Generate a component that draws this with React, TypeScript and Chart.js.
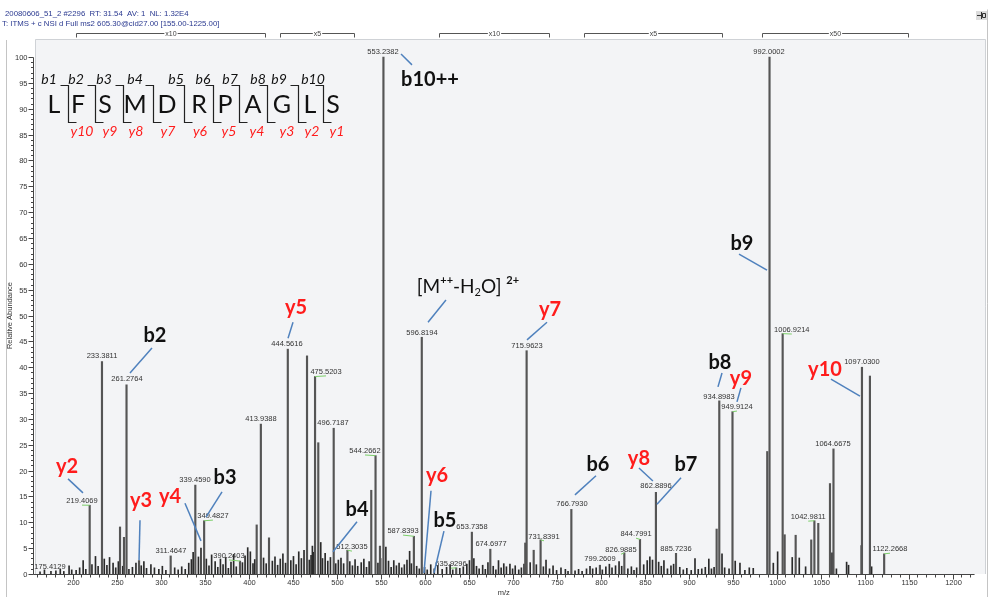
import React, { useEffect, useRef } from 'react';
import { Chart, registerables } from 'chart.js';
Chart.register(...registerables);

const HEADER_1 = '20080606_51_2 #2296  RT: 31.54  AV: 1  NL: 1.32E4';
const HEADER_2 = 'T: ITMS + c NSI d Full ms2 605.30@cid27.00 [155.00-1225.00]';

// x range and ticks
const X_MIN = 155;
const X_MAX = 1238;
const X_AXIS_END = 1225;
const Y_MAX = 103.5;

// major peaks (m/z, relative abundance)
const majorMz = [219.41, 233.38, 253.9, 258.4, 261.28, 275.5, 311.46, 339.46, 349.48, 390.24, 409.2, 413.94, 423.2, 444.56, 466.4, 475.52, 479.2, 496.72, 512.3, 539.4, 544.27, 549.3, 553.24, 587.84, 596.82, 635.93, 653.74, 674.7, 714.4, 715.96, 724, 731.84, 766.79, 799.26, 826.99, 844.8, 862.89, 885.72, 931.9, 934.9, 949.91, 989.4, 992.0, 1006.92, 1009.2, 1021.7, 1039.4, 1042.98, 1047.4, 1060.7, 1064.67, 1097.03, 1106.1, 1122.27];
const majorAbund = [13.3, 41.1, 9.1, 7.1, 36.6, 2.6, 3.5, 17.2, 10.3, 2.5, 9.5, 29.0, 7.0, 43.5, 42.2, 38.2, 25.4, 28.2, 4.6, 16.2, 22.9, 5.4, 100, 7.3, 45.8, 1.2, 8.1, 4.8, 6.0, 43.2, 4.6, 6.6, 12.5, 1.7, 4.1, 6.7, 15.8, 4.0, 8.7, 33.5, 31.4, 23.7, 100, 46.5, 7.6, 7.5, 6.6, 10.3, 9.8, 17.5, 24.2, 40.0, 38.3, 3.9];

// small peaks
const minorMz = [163, 168, 175.41, 181, 186, 190, 196, 199, 204, 208, 212, 215, 222, 226, 229, 236, 239, 242, 246, 249, 252, 257, 264, 268, 272, 278, 281, 284, 289, 293, 298, 302, 306, 316, 320, 324, 328, 332, 335, 337, 343, 345.9, 352, 355, 358, 362, 365, 368, 371, 374, 377, 380, 383, 386, 393, 396, 399, 402, 405, 407, 417, 420, 427, 430, 433, 436, 439, 442, 448, 451, 454, 457, 460, 463, 469, 471, 472.5, 474, 482, 484, 487, 490, 493, 499, 502, 505, 508, 515, 518, 521, 524, 528, 531, 534, 537, 547, 550, 556, 559, 562, 565, 568, 571, 574, 577, 580, 583, 585, 591, 594, 600, 603, 607, 611, 615, 620, 625, 629, 632, 640, 644, 648, 651, 656, 659, 662, 666, 669, 672, 678, 681, 684, 687, 690, 693, 697, 700, 703, 707, 710, 713, 720, 727, 735, 738, 742, 746, 750, 755, 760, 763, 771, 775, 779, 784, 788, 791, 795, 802, 806, 810, 813, 817, 821, 824, 831, 835, 838, 841, 849, 853, 856, 859, 866, 869, 872, 876, 880, 883, 890, 894, 898, 903, 907.3, 911, 915, 919, 923, 926, 929, 938, 941, 946, 953, 958.4, 964, 969, 973.5, 996.3, 1001.2, 1017.8, 1025.8, 1033, 1063, 1068, 1079.6, 1081.8, 1096.3, 1108];
const minorAbund = [0.4, 0.8, 0.5, 0.6, 0.9, 0.5, 1.6, 0.8, 0.7, 1.2, 2.6, 0.9, 1.8, 3.4, 1.5, 2.9, 1.7, 3.2, 2.1, 1.2, 2.4, 1.5, 0.9, 1.3, 2.1, 1.6, 2.4, 1.1, 1.8, 1.2, 0.9, 1.5, 0.7, 1.2, 0.8, 1.4, 0.9, 2.1, 2.8, 4.2, 3.3, 5.0, 2.9, 1.6, 3.7, 2.4, 1.3, 2.9, 1.8, 3.2, 1.1, 2.3, 3.8, 1.4, 2.2, 3.5, 5.1, 4.3, 2.0, 2.8, 3.1, 2.0, 2.5, 3.3, 1.7, 2.9, 3.9, 2.1, 2.6, 3.4, 1.8, 4.3, 3.0, 4.6, 2.7, 3.6, 5.4, 4.2, 6.1, 3.0, 4.0, 2.5, 3.2, 2.0, 2.7, 3.1, 2.0, 2.4, 1.6, 2.8, 1.5, 2.2, 2.9, 1.3, 2.4, 2.1, 3.0, 5.2, 2.5, 1.3, 2.6, 1.6, 2.1, 1.2, 1.8, 2.7, 4.4, 2.0, 1.5, 1.0, 1.3, 0.8, 1.8, 1.0, 1.6, 0.9, 1.3, 1.8, 0.8, 1.1, 1.4, 1.9, 2.6, 3.0, 1.5, 1.0, 1.7, 0.9, 2.2, 1.5, 0.8, 2.6, 1.2, 2.0, 1.4, 1.9, 1.0, 1.6, 0.8, 1.2, 1.9, 2.2, 1.8, 1.4, 2.7, 1.0, 1.6, 0.7, 1.2, 0.9, 0.5, 0.6, 0.9, 0.5, 1.0, 1.5, 1.0, 1.2, 0.8, 1.4, 1.9, 1.2, 1.6, 2.4, 1.5, 1.0, 1.4, 0.7, 1.2, 1.8, 2.6, 3.3, 2.7, 2.3, 1.5, 2.6, 1.0, 1.6, 1.9, 1.3, 0.8, 1.1, 0.7, 3.0, 0.9, 1.0, 1.3, 2.9, 1.0, 1.3, 3.9, 1.2, 1.0, 2.5, 2.1, 0.7, 1.2, 1.1, 2.1, 4.3, 3.2, 3.1, 1.4, 4.1, 1.0, 2.3, 1.7, 5.5, 1.4];

// peak m/z labels: text, label centre (data units), green link
const peakLabelText = ['175.4129', '219.4069', '233.3811', '261.2764', '311.4647', '339.4590', '349.4827', '390.2403', '413.9388', '444.5616', '475.5203', '496.7187', '512.3035', '544.2662', '553.2382', '587.8393', '596.8194', '635.9296', '653.7358', '674.6977', '715.9623', '731.8391', '766.7930', '799.2609', '826.9885', '844.7991', '862.8896', '885.7236', '934.8983', '949.9124', '992.0002', '1006.9214', '1042.9811', '1064.6675', '1097.0300', '1122.2668'];
const peakLabelMz = [174.3, 210.7, 233.4, 261.8, 311.8, 339.1, 359.5, 377.7, 414.1, 443.6, 488.0, 495.9, 517.5, 532.3, 552.7, 575.5, 597.0, 630.0, 653.9, 675.5, 716.4, 735.7, 767.5, 799.3, 823.2, 840.3, 863.0, 885.7, 934.5, 955.0, 991.4, 1017.3, 1036.0, 1064.1, 1097.0, 1128.9];
const peakLabelAb = [1.35, 14.1, 42.2, 37.7, 4.4, 18.2, 11.2, 3.5, 30.0, 44.5, 39.1, 29.2, 5.2, 23.8, 101.0, 8.3, 46.6, 1.9, 9.1, 5.8, 44.1, 7.2, 13.5, 2.9, 4.6, 7.7, 17.0, 4.8, 34.2, 32.3, 101.0, 47.2, 11.0, 25.1, 41.0, 4.8];
const greenLinkPeakMz = [219.41, 349.48, 390.24, 475.52, 512.3, 544.27, 587.84, 635.93, 731.84, 826.99, 844.8, 949.91, 1006.92, 1042.98, 1122.27];
const greenLinkPeakAb = [13.3, 10.3, 2.5, 38.2, 4.6, 22.9, 7.3, 1.2, 6.6, 4.1, 6.7, 31.4, 46.5, 10.3, 3.9];
const greenLinkLabelIdx = [1, 6, 7, 10, 12, 13, 15, 17, 21, 24, 25, 29, 31, 32, 35];

// fragment ion labels
const ionText = ['b10++', 'b2', 'y2', 'y3', 'y4', 'b3', 'b4', 'y5', 'y7', 'y6', 'b5', 'b6', 'y8', 'b7', 'b8', 'y9', 'y10', 'b9'];
const ionRed = [false, false, true, true, true, false, false, true, true, true, false, false, true, false, false, true, true, false];
const ionMz = [606.1, 293.6, 193.6, 277.7, 310.7, 373.2, 523.2, 453.9, 742.5, 614.1, 623.2, 797.0, 843.6, 897.0, 935.7, 959.5, 1055.0, 960.7];
const ionAb = [95.6, 46.2, 20.7, 14.3, 14.9, 18.6, 12.4, 51.5, 51.1, 19.0, 10.4, 21.1, 22.4, 21.1, 41.0, 37.9, 39.5, 64.0];
const leadFromMz = [573.2, 290.2, 194.8, 276.6, 327.7, 369.8, 523.2, 450.5, 739.1, 607.3, 622.0, 794.8, 843.6, 891.4, 938.0, 959.5, 1061.8, 957.3];
const leadFromAb = [100.6, 43.7, 18.4, 10.4, 13.7, 15.9, 10.1, 48.7, 48.7, 16.1, 8.3, 19.0, 20.5, 18.6, 38.9, 36.0, 37.7, 61.9];
const leadToMz = [585.7, 265.2, 211.8, 275.5, 345.9, 351.6, 495.9, 444.8, 716.4, 599.3, 610.7, 770.9, 859.5, 864.1, 933.4, 955.0, 1094.8, 989.1];
const leadToAb = [98.5, 38.9, 15.7, 2.7, 6.4, 11.0, 4.3, 45.6, 45.3, 0.2, 0.2, 15.3, 18.0, 13.5, 36.2, 33.3, 34.4, 58.8];

// precursor annotation
const precMz = 649.3;
const precAb = 55.5;
const precLeadMz = [624.3, 603.9];
const precLeadAb = [53.0, 48.7];

// magnification ranges
const magText = ['x10', 'x5', 'x10', 'x5', 'x50'];
const magStart = [203.9, 435.7, 616.4, 781.1, 983.4];
const magEnd = [418.6, 519.8, 741.4, 938.0, 1149.3];

// peptide sequence
const residues = ['L', 'F', 'S', 'M', 'D', 'R', 'P', 'A', 'G', 'L', 'S'];
const bIons = ['b1', 'b2', 'b3', 'b4', 'b5', 'b6', 'b7', 'b8', 'b9', 'b10'];
const yIons = ['y10', 'y9', 'y8', 'y7', 'y6', 'y5', 'y4', 'y3', 'y2', 'y1'];
const residueX = [54, 78, 105, 135, 167, 199, 225, 253, 282, 310, 333];
const bIonX = [49, 76, 104, 135, 176, 203, 230, 258, 279, 313];
const yIonX = [82, 110, 136, 168, 200, 229, 257, 287, 312, 337];
const cutX = [68, 95, 123, 153, 184, 213, 239, 267, 298, 323];

const SANS = '"Liberation Sans", Arial, sans-serif';
const CAL = 'Lato, "Open Sans", sans-serif';
const RED = '#ff1c1c';
const BLUE = '#4f81bd';

const annotPlugin = {
  id: 'annot',
  beforeDraw(chart: any) {
    const { ctx, chartArea: a } = chart;
    ctx.save();
    ctx.fillStyle = '#ffffff';
    ctx.fillRect(0, 0, chart.width, chart.height);
    ctx.fillStyle = '#f3f4f6';
    ctx.fillRect(a.left + 2, a.top, a.right - a.left - 2, a.bottom - a.top);
    ctx.strokeStyle = '#cfd2d6';
    ctx.lineWidth = 1;
    ctx.beginPath();
    ctx.moveTo(a.left + 2.5, a.bottom);
    ctx.lineTo(a.left + 2.5, a.top + 0.5);
    ctx.lineTo(a.right - 0.5, a.top + 0.5);
    ctx.lineTo(a.right - 0.5, a.bottom);
    ctx.stroke();
    ctx.restore();
  },
  afterDatasetsDraw(chart: any) {
    const { ctx, chartArea: a } = chart;
    const xs = chart.scales.x;
    const ys = chart.scales.y;
    const px = (v: number) => xs.getPixelForValue(v);
    const py = (v: number) => ys.getPixelForValue(v);
    ctx.save();

    // axes
    ctx.strokeStyle = '#444';
    ctx.fillStyle = '#333';
    ctx.lineWidth = 1;
    const ax = Math.round(a.left) + 0.5;
    const ay = Math.round(py(0)) + 0.5;
    ctx.beginPath();
    ctx.moveTo(ax, Math.round(py(100)) + 0.5);
    ctx.lineTo(ax, ay);
    ctx.moveTo(ax, ay);
    ctx.lineTo(px(X_AXIS_END), ay);
    ctx.stroke();
    ctx.font = '7.5px ' + SANS;
    ctx.textAlign = 'right';
    ctx.textBaseline = 'middle';
    ctx.beginPath();
    for (let v = 0; v <= 100; v++) {
      const y = Math.round(py(v)) + 0.5;
      const len = v % 5 === 0 ? 5 : 2.5;
      ctx.moveTo(ax - len, y);
      ctx.lineTo(ax, y);
      if (v % 5 === 0) ctx.fillText(String(v), ax - 6, y);
    }
    ctx.stroke();
    ctx.textAlign = 'center';
    ctx.textBaseline = 'top';
    ctx.beginPath();
    for (let m = 160; m <= 1220; m += 10) {
      const x = Math.round(px(m)) + 0.5;
      const len = m % 50 === 0 ? 5 : 3;
      ctx.moveTo(x, ay);
      ctx.lineTo(x, ay + len);
      if (m % 50 === 0) ctx.fillText(String(m), x, ay + 5);
    }
    ctx.stroke();
    ctx.textBaseline = 'middle';
    ctx.fillText('m/z', px(690), 593);
    ctx.save();
    ctx.translate(10, py(50));
    ctx.rotate(-Math.PI / 2);
    ctx.fillText('Relative Abundance', 0, 0);
    ctx.restore();

    // magnification brackets
    ctx.strokeStyle = '#555';
    ctx.font = '7px ' + SANS;
    for (let i = 0; i < magText.length; i++) {
      const x1 = Math.round(px(magStart[i])) + 0.5;
      const x2 = Math.round(px(magEnd[i])) + 0.5;
      const y = 33.5;
      const mid = (x1 + x2) / 2;
      const w = ctx.measureText(magText[i]).width / 2 + 1;
      ctx.beginPath();
      ctx.moveTo(x1, y + 4);
      ctx.lineTo(x1, y);
      ctx.lineTo(mid - w, y);
      ctx.moveTo(mid + w, y);
      ctx.lineTo(x2, y);
      ctx.lineTo(x2, y + 4);
      ctx.stroke();
      ctx.fillStyle = '#444';
      ctx.textAlign = 'center';
      ctx.fillText(magText[i], mid, y + 0.5);
    }

    // green links
    ctx.strokeStyle = '#7ccf6a';
    ctx.lineWidth = 1;
    for (let i = 0; i < greenLinkPeakMz.length; i++) {
      const li = greenLinkLabelIdx[i];
      const x0 = px(greenLinkPeakMz[i]);
      const y0 = py(greenLinkPeakAb[i]);
      const x1 = px(peakLabelMz[li]);
      const y1 = py(peakLabelAb[li]) + 4;
      ctx.beginPath();
      ctx.moveTo(x0, y0);
      ctx.lineTo(x1, y1);
      ctx.stroke();
    }

    // peak labels
    ctx.font = '7.5px ' + SANS;
    ctx.fillStyle = '#333';
    ctx.textAlign = 'center';
    ctx.textBaseline = 'middle';
    for (let i = 0; i < peakLabelText.length; i++) {
      ctx.fillText(peakLabelText[i], px(peakLabelMz[i]), py(peakLabelAb[i]));
    }

    // leader lines
    ctx.strokeStyle = BLUE;
    ctx.lineWidth = 1.5;
    for (let i = 0; i < ionText.length; i++) {
      ctx.beginPath();
      ctx.moveTo(px(leadFromMz[i]), py(leadFromAb[i]));
      ctx.lineTo(px(leadToMz[i]), py(leadToAb[i]));
      ctx.stroke();
    }
    ctx.beginPath();
    ctx.moveTo(px(precLeadMz[0]), py(precLeadAb[0]));
    ctx.lineTo(px(precLeadMz[1]), py(precLeadAb[1]));
    ctx.stroke();

    // ion labels
    ctx.font = 'bold 20px ' + CAL;
    for (let i = 0; i < ionText.length; i++) {
      ctx.fillStyle = ionRed[i] ? RED : '#111';
      ctx.fillText(ionText[i], px(ionMz[i]), py(ionAb[i]));
    }

    // precursor label [M++-H2O] 2+
    const parts: [string, string, number][] = [
      ['[M', '19px ' + CAL, 0],
      ['++', 'bold 11px ' + CAL, -7],
      ['-H', '19px ' + CAL, 0],
      ['2', '11px ' + CAL, 5],
      ['O]', '19px ' + CAL, 0],
      [' ', '19px ' + CAL, 0],
      ['2+', 'bold 11px ' + CAL, -7],
    ];
    let total = 0;
    for (const p of parts) {
      ctx.font = p[1];
      total += ctx.measureText(p[0]).width;
    }
    let cx = px(precMz) - total / 2;
    const cy = py(precAb);
    ctx.fillStyle = '#111';
    ctx.textAlign = 'left';
    for (const p of parts) {
      ctx.font = p[1];
      ctx.fillText(p[0], cx, cy + p[2]);
      cx += ctx.measureText(p[0]).width;
    }

    // peptide sequence
    ctx.textAlign = 'center';
    ctx.fillStyle = '#111';
    ctx.font = '25px ' + CAL;
    for (let i = 0; i < residues.length; i++) ctx.fillText(residues[i], residueX[i], 105);
    ctx.font = 'italic 14px ' + CAL;
    for (let i = 0; i < bIons.length; i++) ctx.fillText(bIons[i], bIonX[i], 79);
    ctx.fillStyle = RED;
    for (let i = 0; i < yIons.length; i++) ctx.fillText(yIons[i], yIonX[i], 131);
    ctx.strokeStyle = '#222';
    ctx.lineWidth = 1.2;
    for (let i = 0; i < cutX.length; i++) {
      const x = cutX[i] + 0.5;
      ctx.beginPath();
      ctx.moveTo(x - 8, 85.5);
      ctx.lineTo(x, 85.5);
      ctx.lineTo(x, 122.5);
      ctx.lineTo(x + 8, 122.5);
      ctx.stroke();
    }

    // header
    ctx.fillStyle = '#2a3990';
    ctx.textAlign = 'left';
    ctx.font = '7.8px ' + SANS;
    ctx.fillText(HEADER_1, 5, 14);
    ctx.fillText(HEADER_2, 2, 24);

    // frame and pin icon
    ctx.strokeStyle = '#c4c4c4';
    ctx.lineWidth = 1;
    ctx.beginPath();
    ctx.moveTo(6.5, 40);
    ctx.lineTo(6.5, chart.height);
    ctx.moveTo(987.5, 9.5);
    ctx.lineTo(987.5, chart.height);
    ctx.stroke();
    ctx.fillStyle = '#dcdcdc';
    ctx.fillRect(976, 11, 11, 9);
    ctx.strokeStyle = '#333';
    ctx.beginPath();
    ctx.moveTo(977, 15.5);
    ctx.lineTo(981, 15.5);
    ctx.moveTo(981.5, 12);
    ctx.lineTo(981.5, 19);
    ctx.rect(982.5, 13.5, 3, 4);
    ctx.stroke();

    ctx.restore();
  },
};

export default function App() {
  const ref = useRef<HTMLCanvasElement | null>(null);
  useEffect(() => {
    document.body.style.margin = '0';
    const canvas = ref.current;
    if (!canvas) return;
    const chart = new Chart(canvas, {
      type: 'bar',
      data: {
        datasets: [
          {
            label: 'major',
            data: majorMz.map((m, i) => ({ x: m, y: majorAbund[i] })),
            backgroundColor: '#555555',
            barThickness: 1.5,
            grouped: false,
          } as any,
          {
            label: 'minor',
            data: minorMz.map((m, i) => ({ x: m, y: minorAbund[i] })),
            backgroundColor: '#2a2a2a',
            barThickness: 1,
            grouped: false,
          } as any,
        ],
      },
      options: {
        animation: false,
        responsive: false,
        maintainAspectRatio: false,
        devicePixelRatio: 1,
        layout: { padding: { left: 33, top: 39, right: 4, bottom: 23 } },
        plugins: { legend: { display: false }, tooltip: { enabled: false } },
        scales: {
          x: { type: 'linear', min: X_MIN, max: X_MAX, display: false, offset: false },
          y: { type: 'linear', min: 0, max: Y_MAX, display: false },
        },
      } as any,
      plugins: [annotPlugin],
    });
    return () => chart.destroy();
  }, []);
  return (
    <div style={{ position: 'absolute', left: 0, top: 0, width: 990, height: 597 }}>
      <canvas ref={ref} width={990} height={597} style={{ width: 990, height: 597, display: 'block' }} />
    </div>
  );
}
